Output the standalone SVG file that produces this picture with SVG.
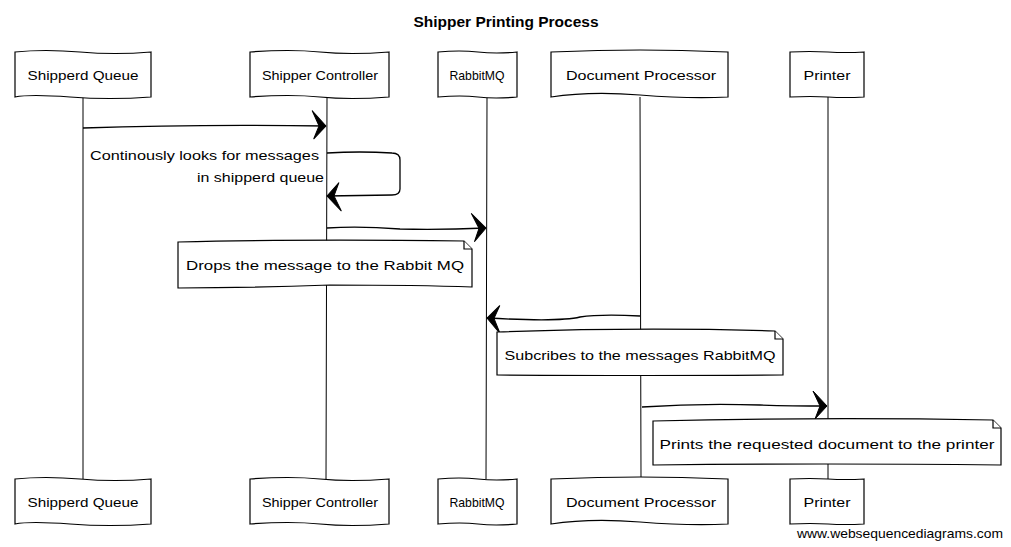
<svg xmlns="http://www.w3.org/2000/svg" width="1011" height="547" viewBox="0 0 1011 547">
<style>
.box{fill:#fff;stroke:#000;stroke-width:1.2}
.life{stroke:#000;stroke-width:1;fill:none}
.msg{stroke:#000;stroke-width:1.3;fill:none}
.lbl{font-family:"Liberation Sans",Arial,sans-serif;font-size:13.5px;fill:#000}
.title{font-family:"Liberation Sans",Arial,sans-serif;font-size:14px;font-weight:bold;fill:#000}
.wm{font-family:"Liberation Sans",Arial,sans-serif;font-size:13px;fill:#000}
</style>
<defs>
<marker id="ah" markerUnits="userSpaceOnUse" viewBox="-16 -16 18 32" markerWidth="18" markerHeight="32" refX="0" refY="0" orient="auto">
<path d="M0,0 L-14,-15 L-7,0 L-12,13 Z" fill="#000" stroke="#000" stroke-width="1" stroke-linejoin="round"/>
</marker>
</defs>
<rect width="1011" height="547" fill="#fff"/>
<text class="title" x="506" y="27" text-anchor="middle" textLength="185" lengthAdjust="spacingAndGlyphs">Shipper Printing Process</text>

<g id="lifelines">
<path class="life" d="M83,97 L83,479"/>
<path class="life" d="M327,97 L326,479"/>
<path class="life" d="M487,97 L486,479"/>
<path class="life" d="M640,97 L641,479"/>
<path class="life" d="M828,97 L828,479"/>
</g>

<g id="node-shippers-queue">
<path class="box" d="M15,52 Q45,49 80,52 T151,52 L151,97 Q110,100 70,97 T15,97 Z"/>
<text class="lbl" x="83" y="80" text-anchor="middle" textLength="111" lengthAdjust="spacingAndGlyphs">Shipperd Queue</text>
<path class="box" d="M15,479 Q45,476 80,479 T151,479 L151,524 Q110,527 70,524 T15,524 Z"/>
<text class="lbl" x="83" y="507" text-anchor="middle" textLength="111" lengthAdjust="spacingAndGlyphs">Shipperd Queue</text>
</g>
<g id="node-shipper-controller">
<path class="box" d="M250,52 Q290,49 320,52 T389,52 L389,97 Q350,100 320,97 T250,97 Z"/>
<text class="lbl" x="320" y="80" text-anchor="middle" textLength="116" lengthAdjust="spacingAndGlyphs">Shipper Controller</text>
<path class="box" d="M250,479 Q290,476 320,479 T389,479 L389,524 Q350,527 320,524 T250,524 Z"/>
<text class="lbl" x="320" y="507" text-anchor="middle" textLength="116" lengthAdjust="spacingAndGlyphs">Shipper Controller</text>
</g>
<g id="node-rabbitmq">
<path class="box" d="M438,52 Q460,50 478,52 T517,52 L517,97 Q495,99 478,97 T438,97 Z"/>
<text class="lbl" x="477" y="80" text-anchor="middle" textLength="55" lengthAdjust="spacingAndGlyphs">RabbitMQ</text>
<path class="box" d="M438,479 Q460,477 478,479 T517,479 L517,524 Q495,526 478,524 T438,524 Z"/>
<text class="lbl" x="477" y="507" text-anchor="middle" textLength="55" lengthAdjust="spacingAndGlyphs">RabbitMQ</text>
</g>
<g id="node-document-processor">
<path class="box" d="M551,52 Q600,50 640,50 T728,52 L728,97 Q690,99 640,95 T551,97 Z"/>
<text class="lbl" x="641" y="80" text-anchor="middle" textLength="150" lengthAdjust="spacingAndGlyphs">Document Processor</text>
<path class="box" d="M551,479 Q600,477 640,477 T728,479 L728,524 Q690,526 640,522 T551,524 Z"/>
<text class="lbl" x="641" y="507" text-anchor="middle" textLength="150" lengthAdjust="spacingAndGlyphs">Document Processor</text>
</g>
<g id="node-printer">
<path class="box" d="M790,52 Q810,51 828,52 T864,52 L864,97 Q845,98 828,97 T790,97 Z"/>
<text class="lbl" x="827" y="80" text-anchor="middle" textLength="47" lengthAdjust="spacingAndGlyphs">Printer</text>
<path class="box" d="M790,479 Q810,478 828,479 T864,479 L864,524 Q845,525 828,524 T790,524 Z"/>
<text class="lbl" x="827" y="507" text-anchor="middle" textLength="47" lengthAdjust="spacingAndGlyphs">Printer</text>
</g>

<g id="connectors">
<path class="msg" d="M83,128 Q200,124 326,126" marker-end="url(#ah)"/>
<path class="msg" d="M327,153 Q360,151 392,153 Q400,153 400,160 L400,189 Q400,195 392,195 L327,196" marker-end="url(#ah)"/>
<path class="msg" d="M327,228 Q360,226 400,229 Q440,230 486,228" marker-end="url(#ah)"/>
<path class="msg" d="M640,316 Q600,314 580,317 Q560,322 487,318" marker-end="url(#ah)"/>
<path class="msg" d="M642,407 Q700,403 760,405 Q790,406 827,406" marker-end="url(#ah)"/>
</g>
<g id="message-labels">
<text class="lbl" x="319" y="160" text-anchor="end" textLength="229" lengthAdjust="spacingAndGlyphs">Continously looks for messages</text>
<text class="lbl" x="324" y="182" text-anchor="end" textLength="127" lengthAdjust="spacingAndGlyphs">in shipperd queue</text>
</g>

<g id="note-drops">
<path class="box" d="M178,242 Q300,239 464,241 L472,249 L472,287 Q420,285 330,285 Q250,288 178,288 Z"/>
<path class="box" d="M464,241 L464,249 L472,249" fill="none"/>
<text class="lbl" x="325" y="270" text-anchor="middle" textLength="278" lengthAdjust="spacingAndGlyphs">Drops the message to the Rabbit MQ</text>
</g>
<g id="note-subscribes">
<path class="box" d="M497,332 Q640,327 775,331 L783,339 L783,375 Q650,376 497,375 Z"/>
<path class="box" d="M775,331 L775,339 L783,339" fill="none"/>
<text class="lbl" x="640" y="360" text-anchor="middle" textLength="271" lengthAdjust="spacingAndGlyphs">Subcribes to the messages RabbitMQ</text>
</g>
<g id="note-prints">
<path class="box" d="M653,421 Q820,417 993,420 L1001,428 L1001,465 Q820,463 653,465 Z"/>
<path class="box" d="M993,420 L993,428 L1001,428" fill="none"/>
<text class="lbl" x="827" y="449" text-anchor="middle" textLength="335" lengthAdjust="spacingAndGlyphs">Prints the requested document to the printer</text>
</g>

<text class="wm" x="797" y="538" textLength="206" lengthAdjust="spacingAndGlyphs">www.websequencediagrams.com</text>
</svg>
